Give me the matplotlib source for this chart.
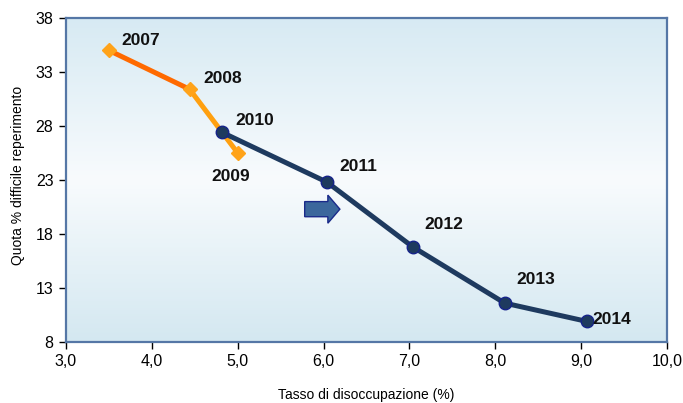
import numpy as np
import matplotlib
matplotlib.use("Agg")
import matplotlib.pyplot as plt
from matplotlib.colors import LinearSegmentedColormap
from matplotlib.patches import FancyArrow

plt.rcParams['font.family'] = ['Liberation Sans', 'DejaVu Sans']

# Unemployment rate (%) vs share of hard-to-find hires (%)
years_a = ["2007", "2008", "2009"]
unemp_a = [3.5, 4.44, 5.0]
quota_a = [35.0, 31.4, 25.5]

years_b = ["2010", "2011", "2012", "2013", "2014"]
unemp_b = [4.82, 6.04, 7.04, 8.11, 9.07]
quota_b = [27.4, 22.8, 16.8, 11.6, 9.9]

x_ticks = [3.0, 4.0, 5.0, 6.0, 7.0, 8.0, 9.0, 10.0]
y_ticks = [8, 13, 18, 23, 28, 33, 38]

# label offsets in pixels (dx, dy) from each point
offsets = {"2007": (12, 10), "2008": (14, 11), "2009": (-26, -24),
           "2010": (13, 12), "2011": (12, 16), "2012": (12, 22),
           "2013": (12, 24), "2014": (5, 2)}

fig = plt.figure(figsize=(6.83, 4.03), dpi=100)
ax = fig.add_axes([66/683, 61/403, 601/683, 324/403])
ax.set_xlim(3, 10)
ax.set_ylim(8, 38)

# background gradient: light blue at top and bottom, near-white in middle
cmap = LinearSegmentedColormap.from_list(
    "bg", [(0.0, "#d4e8f1"), (0.5, "#f8fbfd"), (1.0, "#d7eaf3")])
grad = np.linspace(0, 1, 256).reshape(-1, 1)
ax.imshow(grad, cmap=cmap, aspect="auto", extent=[3, 10, 38, 8],
          origin="upper", zorder=0)
ax.set_ylim(8, 38)

orange_dark = "#ff6a00"
orange_light = "#ffa010"
navy = "#1e3a5f"

ax.plot(unemp_a[:2], quota_a[:2], color=orange_dark, lw=3.6,
        solid_capstyle="round", zorder=3)
ax.plot(unemp_a[1:], quota_a[1:], color=orange_light, lw=3.6,
        solid_capstyle="round", zorder=3)
ax.plot(unemp_a, quota_a, ls="none", marker="D", ms=7.5,
        mfc="#ffa31a", mec="#ffa31a", zorder=4)

ax.plot(unemp_b, quota_b, color=navy, lw=3.6, marker="o", ms=9,
        mfc=navy, mec="#16238a", mew=1.0, zorder=5)

for yrs, xs, ys in ((years_a, unemp_a, quota_a), (years_b, unemp_b, quota_b)):
    for yr, x, y in zip(yrs, xs, ys):
        dx, dy = offsets[yr]
        ax.annotate(yr, (x, y), xytext=(dx, dy), textcoords="offset pixels",
                    ha="left", va="center", fontsize=12.5, fontweight="bold",
                    color="#111111", zorder=6)

# block arrow
ax.add_patch(FancyArrow(5.78, 20.3, 0.41, 0, width=1.4, head_width=2.6,
                        head_length=0.14, length_includes_head=True,
                        fc="#3b679c", ec="#1a2a8a", lw=1.0, zorder=4))

for s in ax.spines.values():
    s.set_color("#5577a6")
    s.set_linewidth(1.6)

ax.set_xticks(x_ticks)
ax.set_xticklabels([f"{v:.1f}".replace(".", ",") for v in x_ticks])
ax.set_yticks(y_ticks)
ax.set_yticklabels([str(v) for v in y_ticks])
ax.tick_params(direction="out", length=5, width=1, color="black",
               labelsize=11.5, pad=4)

fig.text(366/683, 1 - 395/403, "Tasso di disoccupazione (%)",
         fontsize=10, ha="center", va="center")
fig.text(18/683, 1 - 175/403, "Quota % difficile reperimento",
         fontsize=10, ha="center", va="center", rotation=90)

fig.savefig("out.png", dpi=100)
